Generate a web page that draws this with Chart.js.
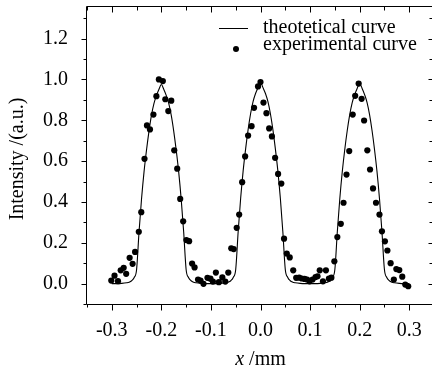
<!DOCTYPE html>
<html><head><meta charset="utf-8">
<script src="https://cdn.jsdelivr.net/npm/chart.js@4"></script>
<style>
html,body{margin:0;padding:0;overflow:hidden;background:#fff;width:432px;height:371px}
#wrap{position:relative;width:440px;height:371px}
</style>
</head><body><div id="wrap"><canvas id="c" width="440" height="371"></canvas></div>
<script>
// theoretical curve
const thX=[-0.30,-0.29,-0.28,-0.27,-0.265,-0.26,-0.255,-0.25,-0.245,-0.24,-0.235,-0.23,-0.225,-0.22,-0.215,-0.21,-0.205,-0.20,-0.195,-0.19,-0.185,-0.18,-0.175,-0.17,-0.165,-0.16,-0.155,-0.15,-0.145,-0.14,-0.135,-0.13,-0.12,-0.11,
-0.10,-0.09,-0.08,-0.07,-0.065,-0.06,-0.055,-0.05,-0.045,-0.04,-0.035,-0.03,-0.025,-0.02,-0.015,-0.01,-0.005,0.00,0.005,0.01,0.015,0.02,0.025,0.03,0.035,0.04,0.045,0.05,0.055,0.06,0.065,0.07,0.08,0.09,
0.10,0.11,0.12,0.13,0.135,0.14,0.145,0.15,0.155,0.16,0.165,0.17,0.175,0.18,0.185,0.19,0.195,0.20,0.205,0.21,0.215,0.22,0.225,0.23,0.235,0.24,0.245,0.25,0.255,0.26,0.265,0.27,0.28,0.29,0.30];
const thY=[0,0,0.001,0.004,0.007,0.014,0.029,0.068,0.254,0.414,0.546,0.653,0.746,0.824,0.882,0.921,0.951,0.975,0.951,0.921,0.882,0.824,0.746,0.653,0.546,0.414,0.254,0.068,0.029,0.014,0.007,0.004,0.001,0,
0,0,0.001,0.004,0.007,0.014,0.030,0.069,0.256,0.419,0.552,0.660,0.754,0.832,0.891,0.931,0.960,0.985,0.960,0.931,0.891,0.832,0.754,0.660,0.552,0.419,0.256,0.069,0.030,0.014,0.007,0.004,0.001,0,
0,0,0.001,0.004,0.007,0.014,0.029,0.069,0.255,0.417,0.549,0.657,0.750,0.828,0.887,0.926,0.956,0.980,0.956,0.926,0.887,0.828,0.750,0.657,0.549,0.417,0.255,0.069,0.029,0.014,0.007,0.004,0.001,0,0];
// experimental points
const expX=[-0.301,-0.2945,-0.2875,-0.282,-0.276,-0.271,-0.264,-0.258,-0.253,-0.2455,
-0.2405,-0.234,-0.229,-0.223,-0.216,-0.210,-0.205,-0.197,-0.192,-0.180,
-0.186,-0.174,-0.168,-0.162,-0.156,-0.1495,-0.144,-0.138,-0.133,-0.126,
-0.121,-0.115,-0.107,-0.101,-0.096,-0.090,-0.084,-0.077,-0.071,-0.065,
-0.059,-0.054,-0.048,-0.043,-0.037,-0.031,-0.025,-0.018,-0.013,-0.005,
0.000,0.006,0.012,0.0175,0.023,0.0295,0.0355,0.042,0.0475,0.053,
0.059,0.066,0.072,0.078,0.0835,0.089,0.094,0.099,0.105,0.111,
0.115,0.1195,0.126,0.132,0.138,0.143,0.149,0.155,0.162,0.1675,
0.1735,0.179,0.186,0.191,0.198,0.204,0.209,0.2155,0.221,0.227,
0.233,0.240,0.245,0.251,0.256,0.2625,0.269,0.274,0.280,0.286,
0.292,0.298];
const expY=[0.015,0.039,0.012,0.065,0.077,0.048,0.126,0.097,0.155,0.254,
0.350,0.611,0.775,0.755,0.828,0.918,1.000,0.992,0.903,0.896,
0.845,0.653,0.563,0.415,0.305,0.213,0.208,0.098,0.079,0.020,
0.015,-0.001,0.028,0.024,0.010,0.054,0.007,0.030,0.010,0.054,
0.173,0.169,0.273,0.338,0.497,0.623,0.725,0.771,0.861,0.966,
0.987,0.887,0.835,0.760,0.721,0.616,0.537,0.490,0.220,0.147,
0.128,0.065,0.028,0.029,0.025,0.023,0.020,0.011,0.020,0.032,
0.036,0.065,0.011,0.065,0.024,0.029,0.109,0.228,0.293,0.396,
0.534,0.649,0.828,0.920,0.980,0.905,0.799,0.653,0.559,0.466,
0.396,0.338,0.256,0.207,0.162,0.100,0.020,0.071,0.066,0.034,
-0.005,-0.013];
const xTickValues=[-0.3,-0.2,-0.1,0,0.1,0.2,0.3];
const xTickLabels=["-0.3","-0.2","-0.1","0.0","0.1","0.2","0.3"];
const xMinorValues=[-0.35,-0.25,-0.15,-0.05,0.05,0.15,0.25,0.35];
const yTickValues=[0,0.2,0.4,0.6,0.8,1.0,1.2];
const yTickLabels=["0.0","0.2","0.4","0.6","0.8","1.0","1.2"];
const yMinorValues=[-0.1,0.1,0.3,0.5,0.7,0.9,1.1,1.3];
const legendLabels=["theotetical curve","experimental curve"];
const xTitleItalic="x", xTitleRest=" /mm";
const yTitle="Intensity /(a.u.)";

const FONT="'Liberation Serif','Times New Roman',serif";

const framePlugin={
  id:'frame',
  afterDraw(chart){
    const ctx=chart.ctx, a=chart.chartArea, xs=chart.scales.x, ys=chart.scales.y;
    ctx.save();
    ctx.strokeStyle='#000'; ctx.lineWidth=1;
    const L=a.left-0.5, B=a.bottom+0.5, T=a.top-0.5, R=a.right-0.5;
    ctx.beginPath();
    ctx.moveTo(L,T); ctx.lineTo(L,B); ctx.lineTo(R,B); ctx.lineTo(R,T); ctx.lineTo(L,T);
    yTickValues.forEach(v=>{const p=Math.round(ys.getPixelForValue(v))+0.5; ctx.moveTo(L,p); ctx.lineTo(L-5,p); ctx.moveTo(R,p); ctx.lineTo(R-5,p);});
    yMinorValues.forEach(v=>{const p=Math.round(ys.getPixelForValue(v))+0.5; ctx.moveTo(L,p); ctx.lineTo(L-3,p); ctx.moveTo(R,p); ctx.lineTo(R-4,p);});
    xTickValues.forEach(v=>{const p=Math.round(xs.getPixelForValue(v))+0.5; ctx.moveTo(p,B); ctx.lineTo(p,B+6); ctx.moveTo(p,T); ctx.lineTo(p,T+6);});
    xMinorValues.forEach(v=>{const p=Math.round(xs.getPixelForValue(v))+0.5; ctx.moveTo(p,B); ctx.lineTo(p,B+3); ctx.moveTo(p,T); ctx.lineTo(p,T+4);});
    ctx.stroke();
    // legend
    ctx.fillStyle='#000';
    ctx.beginPath(); ctx.moveTo(219,28.5); ctx.lineTo(248,28.5); ctx.stroke();
    ctx.beginPath(); ctx.arc(236,49,3,0,Math.PI*2); ctx.fill();
    ctx.font='20px '+FONT; ctx.textBaseline='alphabetic'; ctx.textAlign='left';
    ctx.fillText(legendLabels[0],263,33);
    ctx.fillText(legendLabels[1],263,50);
    // x title
    ctx.font='italic 20px '+FONT;
    const w1=ctx.measureText(xTitleItalic).width;
    ctx.font='20px '+FONT;
    const w2=ctx.measureText(xTitleRest).width;
    const cx=(a.left+a.right)/2, x0=cx-(w1+w2)/2;
    ctx.font='italic 20px '+FONT; ctx.fillText(xTitleItalic,x0,365);
    ctx.font='20px '+FONT; ctx.fillText(xTitleRest,x0+w1,365);
    // y title
    ctx.translate(23,159); ctx.rotate(-Math.PI/2);
    ctx.textAlign='center'; ctx.fillText(yTitle,0,0);
    ctx.restore();
  }
};

new Chart(document.getElementById('c'),{
  type:'scatter',
  data:{datasets:[
    {type:'line',label:legendLabels[0],data:thX.map((x,i)=>({x:x,y:thY[i]})),borderColor:'#000',borderWidth:1.1,pointRadius:0,fill:false,cubicInterpolationMode:'monotone',order:2},
    {label:legendLabels[1],data:expX.map((x,i)=>({x:x,y:expY[i]})),backgroundColor:'#000',borderColor:'#000',borderWidth:0,pointRadius:3.1,order:1}
  ]},
  options:{
    responsive:false,animation:false,devicePixelRatio:1,
    layout:{padding:{top:7,right:6,left:0,bottom:0}},
    plugins:{legend:{display:false},tooltip:{enabled:false}},
    scales:{
      x:{type:'linear',min:-0.35,max:0.35,
        afterBuildTicks:s=>{s.ticks=xTickValues.map(v=>({value:v}));},
        afterFit:s=>{s.height=67;s.paddingLeft=0;s.paddingRight=0;},
        ticks:{callback:(v,i)=>xTickLabels[i],font:{family:FONT,size:20},color:'#000',padding:15,maxRotation:0,autoSkip:false},
        grid:{display:false,drawTicks:false},border:{display:false}},
      y:{type:'linear',min:-0.1,max:1.355,
        afterBuildTicks:s=>{s.ticks=yTickValues.map(v=>({value:v}));},
        afterFit:s=>{s.width=87;s.paddingTop=0;s.paddingBottom=0;},
        ticks:{callback:(v,i)=>yTickLabels[i],font:{family:FONT,size:20},color:'#000',padding:19,autoSkip:false},
        grid:{display:false,drawTicks:false},border:{display:false}}
    }
  },
  plugins:[framePlugin]
});
</script>
</body></html>
